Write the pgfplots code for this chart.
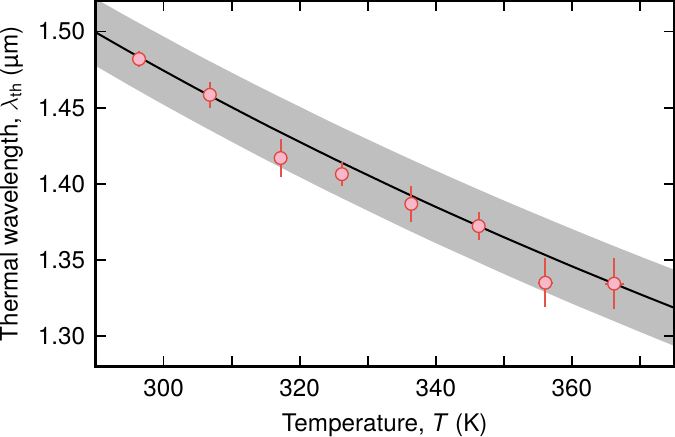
\documentclass[border=0pt]{standalone}
\usepackage{fontspec}
\setmainfont{TeX Gyre Heros}
\usepackage{pgfplots}
\pgfplotsset{compat=1.18}
\usepgfplotslibrary{fillbetween}
\definecolor{bandgray}{RGB}{191,191,191}
\definecolor{mfill}{RGB}{248,184,202}
\definecolor{medge}{RGB}{224,70,60}
\definecolor{ebar}{RGB}{228,82,72}
\begin{document}
\fontsize{12}{14}\selectfont
\begin{tikzpicture}
\begin{axis}[
  scale only axis, width=286.5pt, height=181pt,
  xmin=290, xmax=375, ymin=1.28, ymax=1.52,
  xtick={300,320,340,360}, minor xtick={310,330,350,370},
  ytick={1.30,1.35,1.40,1.45,1.50},
  tick align=inside, major tick length=5pt, minor tick length=5pt,
  every tick/.style={black, line width=0.9pt},
  axis line style={line width=1pt},
  /pgf/number format/assume math mode=true,
  tick label style={font=\fontsize{12}{14}\selectfont},
  xticklabel style={inner sep=0pt, anchor=north, yshift=-6pt},
  yticklabel style={inner sep=0pt, anchor=east, xshift=-5pt,
    /pgf/number format/fixed, /pgf/number format/fixed zerofill,
    /pgf/number format/precision=2},
  xlabel={Temperature, \textit{T} (K)},
  ylabel={Thermal wavelength, $\lambda$\textsubscript{th} (µm)},
  every axis x label/.style={at={(axis description cs:0.5,0)}, anchor=base, yshift=-32pt, inner sep=0pt, font=\fontsize{12}{14}\selectfont},
  every axis y label/.style={at={(axis description cs:0,0.5)}, xshift=-47.5pt, rotate=90, anchor=north, inner sep=0pt, font=\fontsize{12}{14}\selectfont},
  axis on top,
]
\addplot[name path=upper, draw=none, smooth] coordinates {
(290,1.5215) (295,1.5089) (300,1.4967) (305,1.4846) (310,1.4730) (315,1.4616)
(320,1.4506) (325,1.4396) (330,1.4291) (335,1.4187) (340,1.4086) (345,1.3987)
(350,1.3890) (355,1.3796) (360,1.3703) (365,1.3612) (370,1.3523) (375,1.3436)};
\addplot[name path=lower, draw=none, smooth] coordinates {
(290,1.4775) (295,1.4645) (300,1.4519) (305,1.4396) (310,1.4276) (315,1.4158)
(320,1.4044) (325,1.3932) (330,1.3823) (335,1.3715) (340,1.3610) (345,1.3509)
(350,1.3408) (355,1.3310) (360,1.3213) (365,1.3120) (370,1.3027) (375,1.2936)};
\addplot[bandgray, draw=none] fill between[of=upper and lower];
\addplot[black, line width=1pt, smooth] coordinates {
(290,1.4995) (295,1.4867) (300,1.4743) (305,1.4621) (310,1.4503) (315,1.4387)
(320,1.4275) (325,1.4164) (330,1.4057) (335,1.3951) (340,1.3848) (345,1.3748)
(350,1.3649) (355,1.3553) (360,1.3458) (365,1.3366) (370,1.3275) (375,1.3186)};
\addplot[only marks, mark=*, mark size=3.15pt,
  mark options={fill=mfill, draw=medge, line width=0.65pt},
  error bars/.cd, x dir=both, x explicit, y dir=both, y explicit,
  error bar style={ebar, line width=0.95pt}, error mark=none]
coordinates {
(296.4,1.4819) +- (1.0,0.0050)
(306.8,1.4584) +- (0.9,0.0087)
(317.2,1.4169) +- (0.9,0.0122)
(326.2,1.4063) +- (0.9,0.0078)
(336.4,1.3868) +- (0.9,0.0120)
(346.3,1.3722) +- (0.9,0.0094)
(356.1,1.3350) +- (1.15,0.0160)
(366.2,1.3344) +- (1.4,0.0166)
};
\end{axis}
\end{tikzpicture}
\end{document}
